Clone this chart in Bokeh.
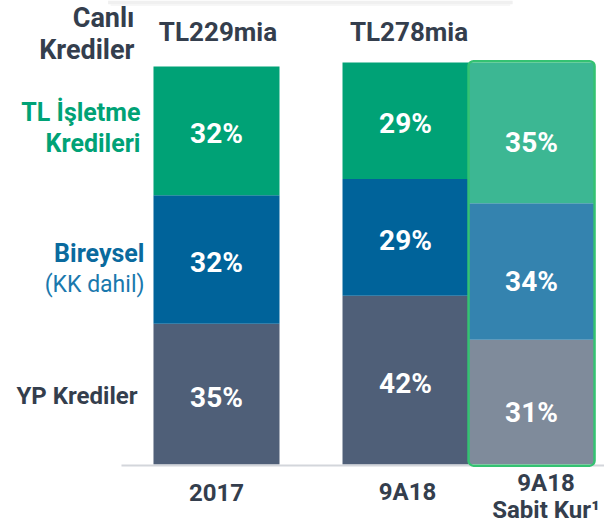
from bokeh.plotting import figure
from bokeh.models import ColumnDataSource, Range1d
from bokeh.core.properties import value
from bokeh.embed import file_html
from bokeh.resources import INLINE

# ---- data ----
categories = ["2017", "9A18", "9A18\nSabit Kur¹"]
positions = [0.0, 1.5, 2.5]
totals = ["TL229mia", "TL278mia", ""]
series_names = ["YP Krediler", "Bireysel", "TL İşletme Kredileri"]
yp_krediler = [35, 42, 31]
bireysel = [32, 29, 34]
tl_isletme = [32, 29, 35]

# ---- style ----
FONT = "Roboto"
DARK = "#343e4d"
GREEN = "#00a276"
BLUE = "#00639a"
colors_main = {"YP Krediler": "#4f5f78", "Bireysel": BLUE, "TL İşletme Kredileri": GREEN}
colors_fx = {"YP Krediler": "#7f8b9b", "Bireysel": "#3483af", "TL İşletme Kredileri": "#3cb793"}
BAR_W = 1.0

p = figure(width=604, height=529, output_backend="svg", toolbar_location=None,
           x_range=Range1d(-1.714, 3.079), y_range=Range1d(-16.17, 115.42),
           min_border=0, outline_line_color=None)
p.axis.visible = False
p.grid.visible = False

# faint shadow strip along the top edge (decoration of the slide)
p.quad(left=[-0.86], right=[2.35], top=[115.42], bottom=[114.5], fill_color="#ececec",
       line_color=None, fill_alpha=0.8)
p.quad(left=[-0.84], right=[2.33], top=[114.5], bottom=[114.1], fill_color="#f4f4f4",
       line_color=None)

series_vals = {"YP Krediler": yp_krediler, "Bireysel": bireysel, "TL İşletme Kredileri": tl_isletme}
bar_tops = [sum(series_vals[n][i] for n in series_names) for i in range(len(positions))]

# stacked segments
xs, bottoms, tops, fills, labels, ly, loff = [], [], [], [], [], [], []
for i, x in enumerate(positions):
    base = 0
    for name in series_names:
        v = series_vals[name][i]
        xs.append(x)
        bottoms.append(base)
        tops.append(base + v)
        fills.append(colors_fx[name] if i == 2 else colors_main[name])
        labels.append(f"{v}%")
        ly.append(base + v / 2)
        loff.append(10 if i == 2 else 3)
        base += v

seg = ColumnDataSource(dict(x=xs, bottom=bottoms, top=tops, fill=fills))
p.vbar(x="x", bottom="bottom", top="top", width=BAR_W, fill_color="fill", line_color=None, source=seg)

# baseline
p.segment(x0=[positions[0] - 0.754], x1=[positions[-1] + 0.6], y0=[-0.25], y1=[-0.25],
          line_color="#d3d6db", line_width=2)

# highlight outline of the constant-currency bar
p.vbar(x=[positions[2]], bottom=[-0.3], top=[bar_tops[2] + 0.3], width=BAR_W,
       fill_color=None, line_color="#34c272", line_width=2.5, border_radius=5)

# percent labels
lab = ColumnDataSource(dict(x=xs, y=ly, t=labels, off=loff))
p.text(x="x", y="y", text="t", y_offset="off", source=lab, text_color="white",
       text_font=value(FONT), text_font_style="bold", text_font_size="28px",
       text_align="center", text_baseline="middle")

# totals above bars
top_all = max(bar_tops)
p.text(x=positions[:2], y=[top_all, top_all], text=totals[:2], x_offset=[1.5, 3.5], y_offset=-30,
       text_color=DARK, text_font=value(FONT), text_font_style="bold",
       text_font_size="26px", text_align="center", text_baseline="middle")

# category labels (one glyph per line)
cx, cy, ct, cxo, cyo = [], [], [], [], []
cat_xoff = [0, 2, 14.5]
for i, c in enumerate(categories):
    lines = c.split("\n")
    for j, line in enumerate(lines):
        cx.append(positions[i])
        cy.append(0)
        ct.append(line)
        cxo.append(cat_xoff[i])
        cyo.append(28 if len(lines) == 1 else 19 + 27 * j)
p.text(x=cx, y=cy, text=ct, x_offset=cxo, y_offset=cyo,
       text_color=DARK, text_font=value(FONT), text_font_style="bold", text_font_size="24px",
       text_align="center", text_baseline="middle")

# left-side series labels, anchored to the first bar's segments
left_edge = positions[0] - BAR_W / 2
tl_mid = yp_krediler[0] + bireysel[0] + tl_isletme[0] / 2
bir_mid = yp_krediler[0] + bireysel[0] / 2
yp_mid = yp_krediler[0] / 2

p.text(x=[left_edge] * 2, y=[tl_mid] * 2, text=["TL İşletme", "Kredileri"],
       x_offset=[-13, -13], y_offset=[-18, 13], text_color=GREEN, text_font=value(FONT),
       text_font_style="bold", text_font_size="25px", text_align="right", text_baseline="middle")
p.text(x=[left_edge], y=[bir_mid], text=["Bireysel"], x_offset=[-9], y_offset=[-6],
       text_color="#0a6a9e", text_font=value(FONT), text_font_style="bold",
       text_font_size="25px", text_align="right", text_baseline="middle")
p.text(x=[left_edge], y=[bir_mid], text=["(KK dahil)"], x_offset=[-9], y_offset=[25],
       text_color="#1a78ad", text_font=value(FONT), text_font_style="normal",
       text_font_size="23px", text_align="right", text_baseline="middle")
p.text(x=[left_edge], y=[yp_mid], text=["YP Krediler"], x_offset=[-16], y_offset=[2],
       text_color=DARK, text_font=value(FONT), text_font_style="bold",
       text_font_size="24px", text_align="right", text_baseline="middle")
p.text(x=[left_edge] * 2, y=[bar_tops[0]] * 2, text=["Canlı", "Krediler"],
       x_offset=[-19, -19], y_offset=[-48.5, -16.5], text_color=DARK, text_font=value(FONT),
       text_font_style="bold", text_font_size="27px", text_align="right", text_baseline="middle")

open("out.html", "w").write(file_html(p, INLINE))
